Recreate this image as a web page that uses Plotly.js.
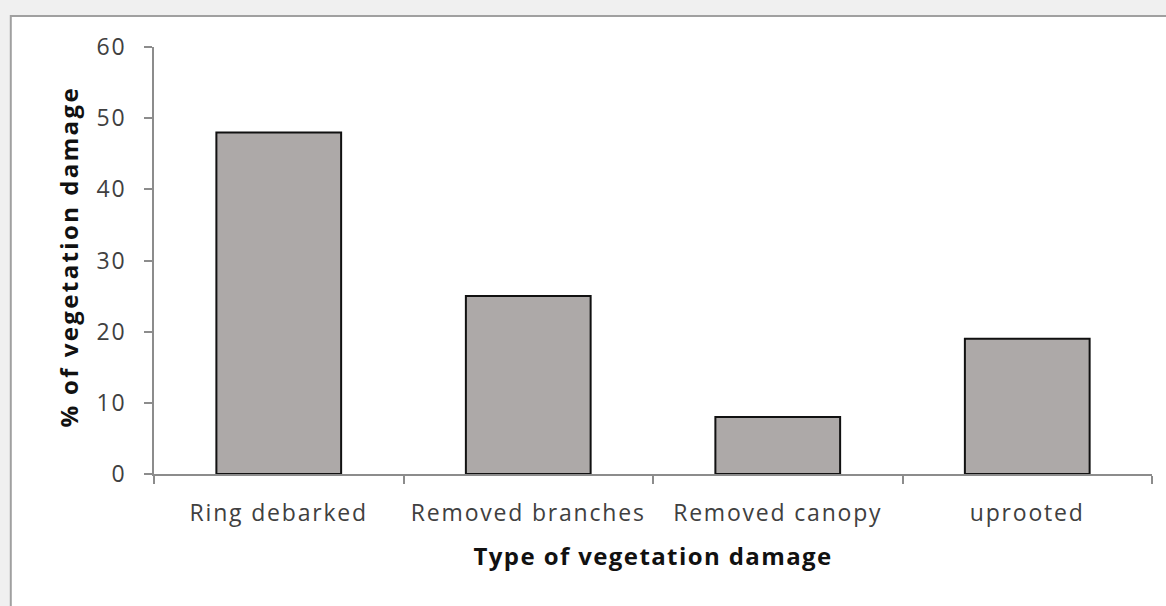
<!DOCTYPE html>
<html>
<head>
<meta charset="utf-8">
<script src="https://cdn.plot.ly/plotly-3.0.1.min.js"></script>
<style>
html,body{margin:0;padding:0;background:#f0f0f0;}
#chart{width:1166px;height:606px;}
#chart .xtick text, #chart .ytick text{letter-spacing:1.8px;}
#chart .annotation[data-index="0"] text{letter-spacing:1.4px;}
#chart .annotation[data-index="1"] text{letter-spacing:2.4px;}
</style>
</head>
<body>
<div id="chart"></div>
<script>
const categories = ["Ring debarked", "Removed branches", "Removed canopy", "uprooted"];
const damagePercent = [48, 25, 8, 19];
const yTickValues = [0, 10, 20, 30, 40, 50, 60];
const xTitle = "Type of vegetation damage";
const yTitle = "% of vegetation damage";

const trace = {
  type: "bar",
  x: categories,
  y: damagePercent,
  marker: { color: "#ada9a8", line: { color: "#111111", width: 2 } },
  hoverinfo: "x+y"
};

const titleFont = { family: "Open Sans, sans-serif", size: 24, color: "#111111", weight: 700 };

const layout = {
  width: 1166,
  height: 606,
  margin: { l: 154, r: 14, t: 47, b: 132 },
  paper_bgcolor: "#f0f0f0",
  plot_bgcolor: "#ffffff",
  bargap: 0.5,
  showlegend: false,
  font: { family: "Open Sans, sans-serif", color: "#404040" },
  shapes: [{
    type: "rect", xref: "paper", yref: "paper", layer: "below",
    x0: -0.1435, x1: 1.03, y0: -0.6, y1: 1.0726,
    fillcolor: "#ffffff", line: { color: "#a0a0a0", width: 2 }
  }],
  annotations: [
    { text: "<b>" + xTitle + "</b>", xref: "paper", yref: "paper", x: 0.5, y: -0.19,
      xanchor: "center", yanchor: "middle", showarrow: false, font: titleFont },
    { text: "<b>" + yTitle + "</b>", xref: "paper", yref: "paper", x: -0.0862, y: 0.51,
      xanchor: "center", yanchor: "middle", textangle: -90, showarrow: false, font: titleFont }
  ],
  xaxis: {
    type: "category",
    showline: true, linecolor: "#8c8c8c", linewidth: 2,
    ticks: "outside", tickson: "boundaries", ticklen: 8, tickcolor: "#8c8c8c", tickwidth: 2,
    tickfont: { size: 23, color: "#404040" },
    ticklabelstandoff: 17,
    showgrid: false,
    automargin: false
  },
  yaxis: {
    range: [0, 60], tickvals: yTickValues,
    showline: true, linecolor: "#8c8c8c", linewidth: 2,
    ticks: "outside", ticklen: 8, tickcolor: "#8c8c8c", tickwidth: 2,
    tickfont: { size: 23, color: "#404040" },
    ticklabelstandoff: 13,
    showgrid: false, zeroline: false,
    automargin: false
  }
};

Plotly.newPlot("chart", [trace], layout, { displayModeBar: false, staticPlot: true });
</script>
</body>
</html>
